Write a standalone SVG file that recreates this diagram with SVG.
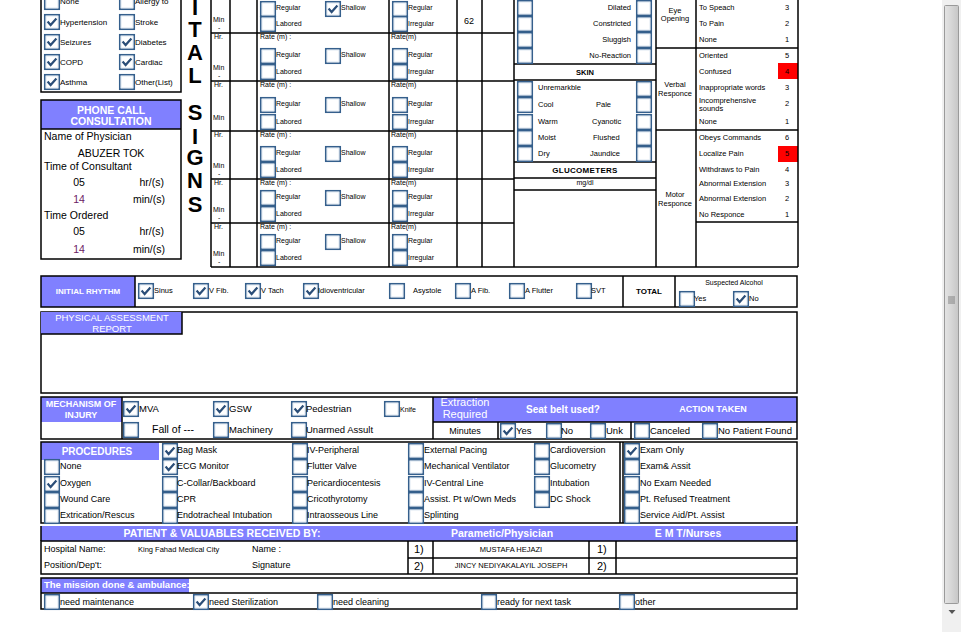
<svg xmlns="http://www.w3.org/2000/svg" width="976" height="632" viewBox="0 0 976 632">
<style>
text{font-family:"Liberation Sans",Arial,sans-serif;fill:#000}
.k{stroke:#000;stroke-width:1.5;fill:none}
.p{fill:#8080ff}
.w{fill:#fff}
.b{font-weight:bold}
.f7{font-size:7px}.f75{font-size:7.5px}.f8{font-size:8px}.f9{font-size:9px}.f95{font-size:9.5px}.f10{font-size:10px}.f105{font-size:10.5px}.f11{font-size:11px}
.m{text-anchor:middle}.e{text-anchor:end}
.g{fill:#444}
.big{font-size:22px;font-weight:bold;text-anchor:middle}
</style>
<defs>
<g id="b"><rect x="0.75" y="0.75" width="14.5" height="14.5" fill="#fff" stroke="#355f8c" stroke-width="1.6"/><rect x="2.2" y="2.2" width="11.6" height="11.6" fill="none" stroke="#e3ebf4" stroke-width="0.8"/></g>
<g id="c"><use href="#b"/><path d="M3.6 7.6 L6.6 11 L12.4 4.4" fill="none" stroke="#2b4e78" stroke-width="2.2"/></g>
<linearGradient id="sg" x1="0" x2="1" y1="0" y2="0"><stop offset="0" stop-color="#e4e4e4"/><stop offset="0.5" stop-color="#d6d6d6"/><stop offset="1" stop-color="#c6c6c6"/></linearGradient>
</defs>
<rect width="976" height="632" fill="#fff"/>

<g id="history">
<path class="k" d="M41 0V92H181V0"/>
<use href="#b" x="44" y="-6"/><use href="#c" x="44" y="14"/><use href="#c" x="44" y="34"/><use href="#c" x="44" y="54"/><use href="#c" x="44" y="74"/>
<use href="#b" x="119" y="-6"/><use href="#b" x="119" y="14"/><use href="#c" x="119" y="34"/><use href="#c" x="119" y="54"/><use href="#b" x="119" y="74"/>
<g class="f8">
<text x="60" y="4">None</text><text x="60" y="25">Hypertension</text><text x="60" y="45">Seizures</text><text x="60" y="65">COPD</text><text x="60" y="85">Asthma</text>
<text x="135" y="4">Allergy to</text><text x="135" y="25">Stroke</text><text x="135" y="45">Diabetes</text><text x="135" y="65">Cardiac</text><text x="135" y="85">Other(List)</text>
</g>
</g>

<g id="phone">
<rect class="p" x="41" y="100" width="140" height="29"/>
<rect class="k" x="41" y="100" width="140" height="159"/>
<line class="k" x1="41" y1="129" x2="181" y2="129"/>
<text class="w b f105 m" x="111" y="114">PHONE CALL</text>
<text class="w b f105 m" x="111" y="125">CONSULTATION</text>
<g class="f105">
<text x="44" y="140">Name of Physician</text>
<text class="m" x="111" y="157">ABUZER TOK</text>
<text x="44" y="170">Time of Consultant</text>
<text class="m" x="79" y="186">05</text><text class="e" x="164" y="186">hr/(s)</text>
<text class="m" x="79" y="203" style="fill:#6b1a63">14</text><text class="e" x="165" y="203">min/(s)</text>
<text x="44" y="219">Time Ordered</text>
<text class="m" x="79" y="235">05</text><text class="e" x="164" y="235">hr/(s)</text>
<text class="m" x="79" y="253" style="fill:#6b1a63">14</text><text class="e" x="165" y="253">min/(s)</text>
</g>
</g>

<g id="vital-title">
<text class="big" x="195" y="15">I</text><text class="big" x="195" y="37">T</text><text class="big" x="195" y="60">A</text><text class="big" x="195" y="83">L</text>
<text class="big" x="195" y="120">S</text><text class="big" x="195" y="144">I</text><text class="big" x="195" y="165">G</text><text class="big" x="195" y="188">N</text><text class="big" x="195" y="212">S</text>
</g>

<g id="vitals">
<path class="k" d="M211 0V267M230 0V267M257 0V267M389 0V267M457 0V267M482 0V267M514 0V267M211 33H514M211 81H514M211 131H514M211 179H514M211 223H514M211 267H798"/>
<use href="#b" x="260" y="1"/><use href="#b" x="260" y="16"/><use href="#c" x="325" y="1"/><use href="#b" x="392" y="1"/><use href="#b" x="392" y="16"/>
<use href="#b" x="260" y="48"/><use href="#b" x="260" y="64"/><use href="#b" x="325" y="48"/><use href="#b" x="392" y="48"/><use href="#b" x="392" y="64"/>
<use href="#b" x="260" y="97"/><use href="#b" x="260" y="114"/><use href="#b" x="325" y="97"/><use href="#b" x="392" y="97"/><use href="#b" x="392" y="114"/>
<use href="#b" x="260" y="146"/><use href="#b" x="260" y="162"/><use href="#b" x="325" y="146"/><use href="#b" x="392" y="146"/><use href="#b" x="392" y="162"/>
<use href="#b" x="260" y="190"/><use href="#b" x="260" y="206"/><use href="#b" x="325" y="190"/><use href="#b" x="392" y="190"/><use href="#b" x="392" y="206"/>
<use href="#b" x="260" y="234"/><use href="#b" x="260" y="250"/><use href="#b" x="325" y="234"/><use href="#b" x="392" y="234"/><use href="#b" x="392" y="250"/>
<g class="f7">
<text x="276" y="10">Regular</text><text x="276" y="26">Labored</text><text x="341" y="10">Shallow</text><text x="408" y="10">Regular</text><text x="408" y="26">Irregular</text>
<text x="276" y="57">Regular</text><text x="276" y="74">Labored</text><text x="341" y="57">Shallow</text><text x="408" y="57">Regular</text><text x="408" y="74">Irregular</text>
<text x="276" y="106">Regular</text><text x="276" y="124">Labored</text><text x="341" y="106">Shallow</text><text x="408" y="106">Regular</text><text x="408" y="124">Irregular</text>
<text x="276" y="155">Regular</text><text x="276" y="172">Labored</text><text x="341" y="155">Shallow</text><text x="408" y="155">Regular</text><text x="408" y="172">Irregular</text>
<text x="276" y="199">Regular</text><text x="276" y="216">Labored</text><text x="341" y="199">Shallow</text><text x="408" y="199">Regular</text><text x="408" y="216">Irregular</text>
<text x="276" y="243">Regular</text><text x="276" y="260">Labored</text><text x="341" y="243">Shallow</text><text x="408" y="243">Regular</text><text x="408" y="260">Irregular</text>
<text x="260" y="39">Rate (m)  :</text><text x="391" y="39">Rate(m)</text>
<text x="260" y="87">Rate (m)  :</text><text x="391" y="87">Rate(m)</text>
<text x="260" y="137">Rate (m)  :</text><text x="391" y="137">Rate(m)</text>
<text x="260" y="185">Rate (m)  :</text><text x="391" y="185">Rate(m)</text>
<text x="260" y="229">Rate (m)  :</text><text x="391" y="229">Rate(m)</text>
</g>
<g class="f7 g">
<text x="214" y="39">Hr.</text><text x="214" y="87">Hr.</text><text x="214" y="137">Hr.</text><text x="214" y="185">Hr.</text><text x="214" y="229">Hr.</text>
<text x="213" y="22">Min</text><text x="218" y="30">-</text>
<text x="213" y="70">Min</text><text x="218" y="78">-</text>
<text x="213" y="120">Min</text>
<text x="213" y="168">Min</text><text x="218" y="176">-</text>
<text x="213" y="212">Min</text><text x="218" y="220">-</text>
<text x="213" y="256">Min</text><text x="218" y="264">-</text>
</g>
<text class="f9 m" x="469" y="24">62</text>
</g>

<g id="skin">
<path class="k" d="M514 64H656M514 80H656M514 162H656M514 178H656M514 190H656"/>
<use href="#b" x="517" y="0"/><use href="#b" x="517" y="16"/><use href="#b" x="517" y="32"/><use href="#b" x="517" y="48"/>
<use href="#b" x="636" y="0"/><use href="#b" x="636" y="16"/><use href="#b" x="636" y="32"/><use href="#b" x="636" y="48"/>
<g class="f75">
<text class="e" x="631" y="10">Dilated</text><text class="e" x="631" y="26">Constricted</text><text class="e" x="631" y="42">Sluggish</text><text class="e" x="631" y="58">No-Reaction</text>
</g>
<text class="b f75 m" x="585" y="75">SKIN</text>
<use href="#b" x="517" y="81"/><use href="#b" x="517" y="97"/><use href="#b" x="517" y="114"/><use href="#b" x="517" y="130"/><use href="#b" x="517" y="146"/>
<use href="#b" x="636" y="81"/><use href="#b" x="636" y="97"/><use href="#b" x="636" y="114"/><use href="#b" x="636" y="130"/><use href="#b" x="636" y="146"/>
<g class="f75">
<text x="538" y="90">Unremarkble</text><text x="538" y="107">Cool</text><text x="538" y="124">Warm</text><text x="538" y="140">Moist</text><text x="538" y="156">Dry</text>
<text x="596" y="107">Pale</text><text x="592" y="124">Cyanotic</text><text x="593" y="140">Flushed</text><text x="590" y="156">Jaundice</text>
</g>
<text class="b f8 m" x="585" y="173" style="letter-spacing:0.3px">GLUCOMETERS</text>
<text class="f7 m" x="585" y="185">mg/dl</text>
</g>

<g id="gcs">
<rect x="778" y="63" width="20" height="16" fill="#f00"/>
<rect x="778" y="146" width="20" height="16" fill="#f00"/>
<path class="k" d="M656 0V267M696 0V267M798 0V267M656 48H798M656 130H798M696 222H798"/>
<g class="f75">
<text class="m" x="675" y="13">Eye</text><text class="m" x="675" y="21">Opening</text>
<text class="m" x="675" y="87">Verbal</text><text class="m" x="675" y="96">Responce</text>
<text class="m" x="675" y="197">Motor</text><text class="m" x="675" y="206">Responce</text>
<text x="699" y="10">To Speach</text><text x="699" y="26">To Pain</text><text x="699" y="42">None</text>
<text x="699" y="58">Oriented</text><text x="699" y="74">Confused</text><text x="699" y="90">Inappropriate words</text>
<text x="699" y="103">Incomprehensive</text><text x="699" y="111">sounds</text><text x="699" y="124">None</text>
<text x="699" y="140">Obeys Commands</text><text x="699" y="156">Localize Pain</text><text x="699" y="172">Withdraws to Pain</text>
<text x="699" y="186">Abnormal Extension</text><text x="699" y="201">Abnormal Extension</text><text x="699" y="217">No Responce</text>
<text class="m" x="787" y="10">3</text><text class="m" x="787" y="26">2</text><text class="m" x="787" y="42">1</text>
<text class="m" x="787" y="58">5</text><text class="m" x="787" y="74">4</text><text class="m" x="787" y="90">3</text><text class="m" x="787" y="106">2</text><text class="m" x="787" y="124">1</text>
<text class="m" x="787" y="140">6</text><text class="m" x="787" y="156">5</text><text class="m" x="787" y="172">4</text><text class="m" x="787" y="186">3</text><text class="m" x="787" y="201">2</text><text class="m" x="787" y="217">1</text>
</g>
</g>

<g id="rhythm">
<rect class="p" x="41" y="276" width="94" height="31"/>
<rect class="k" x="41" y="276" width="756" height="31"/>
<path class="k" d="M135 276V307M623 276V307M675 276V307"/>
<text class="w b f8 m" x="88" y="294">INITIAL RHYTHM</text>
<use href="#c" x="138" y="283"/><use href="#c" x="193" y="283"/><use href="#c" x="245" y="283"/><use href="#c" x="303" y="283"/>
<use href="#b" x="389" y="283"/><use href="#b" x="455" y="283"/><use href="#b" x="509" y="283"/><use href="#b" x="576" y="283"/>
<g class="f75">
<text x="154" y="293">Sinus</text><text x="209" y="293">V Fib.</text><text x="261" y="293">V Tach</text><text x="318" y="293">Idioventricular</text>
<text x="413" y="293">Asystole</text><text x="471" y="293">A Fib.</text><text x="525" y="293">A Flutter</text><text x="591" y="293">SVT</text>
</g>
<text class="b f8 m" x="649" y="294">TOTAL</text>
<text class="f7 m" x="734" y="285">Suspected Alcohol</text>
<use href="#b" x="679" y="291"/><use href="#c" x="733" y="291"/>
<text class="f75" x="694" y="301">Yes</text><text class="f75" x="749" y="301">No</text>
</g>

<g id="assessment">
<rect class="k" x="41" y="312" width="756" height="81"/>
<rect class="p" x="41" y="312" width="141" height="22"/>
<path class="k" d="M41 334H182V312"/>
<text class="w f95 m" x="112" y="321">PHYSICAL ASSESSMENT</text>
<text class="w f95 m" x="112" y="332">REPORT</text>
</g>

<g id="mechanism">
<rect class="p" x="41" y="397" width="81" height="25"/>
<rect class="p" x="433" y="397" width="364" height="25"/>
<rect class="k" x="41" y="397" width="756" height="42"/>
<path class="k" d="M122 397V439M433 397V439M433 422H797M498 422V439M631 422V439"/>
<text class="w b f9 m" x="81" y="407">MECHANISM OF</text>
<text class="w b f9 m" x="81" y="418">INJURY</text>
<use href="#c" x="123" y="401"/><use href="#c" x="213" y="401"/><use href="#c" x="291" y="401"/><use href="#b" x="384" y="401"/>
<use href="#b" x="123" y="422"/><use href="#b" x="213" y="422"/><use href="#b" x="291" y="422"/>
<g class="f95">
<text x="139" y="412">MVA</text><text x="229" y="412">GSW</text><text x="306" y="412">Pedestrian</text>
<text x="152" y="433" style="font-size:10.5px">Fall of ---</text><text x="229" y="433">Machinery</text><text x="306" y="433">Unarmed Assult</text>
</g>
<text class="f7" x="400" y="412">Knife</text>
<text class="w f11 m" x="465" y="406">Extraction</text>
<text class="w f11 m" x="465" y="418">Required</text>
<text class="w b f10 m" x="563" y="413">Seat belt used?</text>
<text class="w b f9 m" x="713" y="412">ACTION TAKEN</text>
<text class="f9 m" x="465" y="434">Minutes</text>
<use href="#c" x="500" y="423"/><use href="#b" x="546" y="423"/><use href="#b" x="590" y="423"/><use href="#b" x="634" y="423"/><use href="#b" x="702" y="423"/>
<g class="f95">
<text x="516" y="434">Yes</text><text x="561" y="434">No</text><text x="606" y="434">Unk</text><text x="650" y="434">Canceled</text><text x="718" y="434">No Patient Found</text>
</g>
</g>

<g id="procedures">
<rect class="p" x="41" y="442" width="118" height="18"/>
<rect class="k" x="41" y="442" width="756" height="81"/>
<path class="k" d="M620 442V523M623 442V523"/>
<text class="w b f10 m" x="97" y="455">PROCEDURES</text>
<use href="#b" x="44" y="459"/><use href="#c" x="44" y="476"/><use href="#b" x="44" y="492"/><use href="#b" x="44" y="508"/>
<use href="#c" x="162" y="443"/><use href="#c" x="162" y="459"/><use href="#b" x="162" y="476"/><use href="#b" x="162" y="492"/><use href="#b" x="162" y="508"/>
<use href="#b" x="292" y="443"/><use href="#b" x="292" y="459"/><use href="#b" x="292" y="476"/><use href="#b" x="292" y="492"/><use href="#b" x="292" y="508"/>
<use href="#b" x="408" y="443"/><use href="#b" x="408" y="459"/><use href="#b" x="408" y="476"/><use href="#b" x="408" y="492"/><use href="#b" x="408" y="508"/>
<use href="#b" x="534" y="443"/><use href="#b" x="534" y="459"/><use href="#b" x="534" y="476"/><use href="#b" x="534" y="492"/>
<use href="#c" x="624" y="443"/><use href="#b" x="624" y="459"/><use href="#b" x="624" y="476"/><use href="#b" x="624" y="492"/><use href="#b" x="624" y="508"/>
<g class="f9">
<text x="60" y="469">None</text><text x="60" y="486">Oxygen</text><text x="60" y="502">Wound Care</text><text x="60" y="518">Extrication/Rescus</text>
<text x="177" y="453">Bag Mask</text><text x="177" y="469">ECG Monitor</text><text x="177" y="486">C-Collar/Backboard</text><text x="177" y="502">CPR</text><text x="177" y="518">Endotracheal Intubation</text>
<text x="307" y="453">IV-Peripheral</text><text x="307" y="469">Flutter Valve</text><text x="307" y="486">Pericardiocentesis</text><text x="307" y="502">Cricothyrotomy</text><text x="307" y="518">Intraosseous Line</text>
<text x="424" y="453">External Pacing</text><text x="424" y="469">Mechanical Ventilator</text><text x="424" y="486">IV-Central Line</text><text x="424" y="502">Assist. Pt w/Own Meds</text><text x="424" y="518">Splinting</text>
<text x="550" y="453">Cardioversion</text><text x="550" y="469">Glucometry</text><text x="550" y="486">Intubation</text><text x="550" y="502">DC Shock</text>
<text x="640" y="453">Exam Only</text><text x="640" y="469">Exam&amp; Assit</text><text x="640" y="486">No Exam Needed</text><text x="640" y="502">Pt. Refused Treatment</text><text x="640" y="518">Service Aid/Pt. Assist</text>
</g>
</g>

<g id="received">
<rect class="p" x="41" y="526" width="756" height="15"/>
<rect class="k" x="41" y="541" width="756" height="33"/>
<path class="k" d="M41 526V541M797 526V541M408 541V574M433 541V574M589 541V574M616 541V574M408 558H797"/>
<text class="w b f105 m" x="222" y="537">PATIENT &amp; VALUABLES RECEIVED BY:</text>
<text class="w b f105 m" x="502" y="537">Parametic/Physician</text>
<text class="w b f105 m" x="688" y="537">E M T/Nurses</text>
<g class="f9">
<text x="44" y="552">Hospital Name:</text><text x="252" y="552">Name :</text>
<text x="44" y="568">Position/Dep't:</text><text x="252" y="568">Signature</text>
</g>
<text class="f75" x="138" y="552">King Fahad Medical City</text>
<text class="f11" x="414" y="553">1)</text><text class="f11" x="414" y="570">2)</text>
<text class="f11" x="597" y="553">1)</text><text class="f11" x="597" y="570">2)</text>
<text class="f75 m" x="511" y="552">MUSTAFA  HEJAZI</text>
<text class="f75 m" x="511" y="568">JINCY NEDIYAKALAYIL JOSEPH</text>
</g>

<g id="mission">
<rect class="p" x="41" y="578" width="148" height="15"/>
<rect class="k" x="41" y="578" width="756" height="31"/>
<line class="k" x1="41" y1="593" x2="797" y2="593"/>
<text class="w b f95" x="44" y="588">The mission done &amp; ambulance:</text>
<use href="#b" x="44" y="594"/><use href="#c" x="193" y="594"/><use href="#b" x="317" y="594"/><use href="#b" x="481" y="594"/><use href="#b" x="619" y="594"/>
<g class="f9">
<text x="60" y="605">need maintenance</text><text x="209" y="605">need Sterilization</text><text x="333" y="605">need cleaning</text><text x="497" y="605">ready for next task</text><text x="635" y="605">other</text>
</g>
</g>

<g id="scrollbar">
<rect x="942" y="0" width="19" height="632" fill="#f0f0f0"/>
<rect x="944.5" y="5.5" width="14" height="598" rx="1" fill="url(#sg)" stroke="#9a9a9a"/>
<path d="M948 297H955M948 299H955M948 301H955M948 303H955" stroke="#707070" stroke-width="0.8"/>
<path d="M948.5 610H955.5L952 614Z" fill="#555"/>
</g>
</svg>
